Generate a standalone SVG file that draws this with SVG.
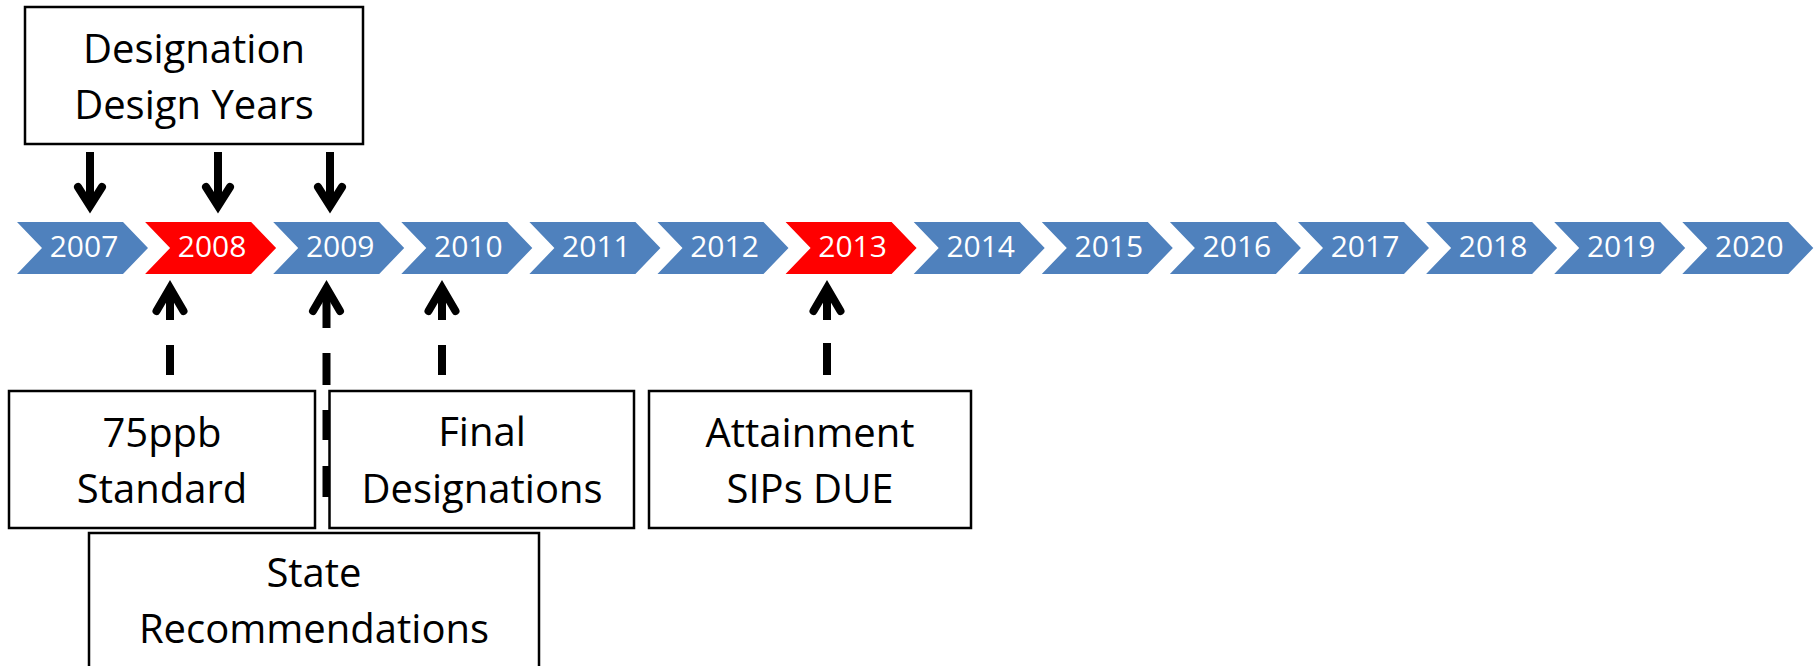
<svg xmlns="http://www.w3.org/2000/svg" width="1818" height="666" viewBox="0 0 1818 666">
<style>
.chev{fill:#4F81BD}
.chev.red{fill:#FF0000}
.yr{font-family:"Open Sans","Liberation Sans",sans-serif;font-size:30px;fill:#FFFFFF;text-anchor:middle}
.box{fill:#FFFFFF;stroke:#000000;stroke-width:2.5}
.lbl{font-family:"Open Sans","Liberation Sans",sans-serif;font-size:40px;fill:#000000;text-anchor:middle}
.shaft{stroke:#000000;stroke-width:8;fill:none}
.head{stroke:#000000;stroke-width:8;fill:none;stroke-linecap:round;stroke-linejoin:miter}
</style>
<defs>
<polygon id="chevShape" points="0,222 106,222 131,248 106,274 0,274 25,248"/>
</defs>
<rect width="1818" height="666" fill="#FFFFFF"/>
<g id="timeline">
<g id="y2007"><use href="#chevShape" class="chev" x="17"/><text class="yr" x="84" y="257">2007</text></g>
<g id="y2008"><use href="#chevShape" class="chev red" x="145.1"/><text class="yr" x="212.1" y="257">2008</text></g>
<g id="y2009"><use href="#chevShape" class="chev" x="273.2"/><text class="yr" x="340.2" y="257">2009</text></g>
<g id="y2010"><use href="#chevShape" class="chev" x="401.3"/><text class="yr" x="468.3" y="257">2010</text></g>
<g id="y2011"><use href="#chevShape" class="chev" x="529.4"/><text class="yr" x="596.4" y="257">2011</text></g>
<g id="y2012"><use href="#chevShape" class="chev" x="657.5"/><text class="yr" x="724.5" y="257">2012</text></g>
<g id="y2013"><use href="#chevShape" class="chev red" x="785.6"/><text class="yr" x="852.6" y="257">2013</text></g>
<g id="y2014"><use href="#chevShape" class="chev" x="913.7"/><text class="yr" x="980.7" y="257">2014</text></g>
<g id="y2015"><use href="#chevShape" class="chev" x="1041.8"/><text class="yr" x="1108.8" y="257">2015</text></g>
<g id="y2016"><use href="#chevShape" class="chev" x="1169.9"/><text class="yr" x="1236.9" y="257">2016</text></g>
<g id="y2017"><use href="#chevShape" class="chev" x="1298"/><text class="yr" x="1365" y="257">2017</text></g>
<g id="y2018"><use href="#chevShape" class="chev" x="1426.1"/><text class="yr" x="1493.1" y="257">2018</text></g>
<g id="y2019"><use href="#chevShape" class="chev" x="1554.2"/><text class="yr" x="1621.2" y="257">2019</text></g>
<g id="y2020"><use href="#chevShape" class="chev" x="1682.3"/><text class="yr" x="1749.3" y="257">2020</text></g>
</g>
<g id="connectors">
<!-- down arrows from Designation Design Years -->
<path class="shaft" d="M90,152V206M218,152V206M330,152V206"/>
<path class="head" d="M78,187L90,206L102,187M206,187L218,206L230,187M318,187L330,206L342,187"/>
<!-- up arrows -->
<path class="shaft" d="M170,288V320M170,345V375"/>
<path class="head" d="M156.5,311L170,288L183.5,311"/>
<path class="shaft" d="M326.5,288V328M326.5,353V385M326.5,410V440M326.5,466V497"/>
<path class="head" d="M313,311L326.5,288L340,311"/>
<path class="shaft" d="M442,288V320M442,345V375"/>
<path class="head" d="M428.5,311L442,288L455.5,311"/>
<path class="shaft" d="M827,288V320M827,343V375"/>
<path class="head" d="M813.5,311L827,288L840.5,311"/>
</g>
<g id="designation">
<rect class="box" x="25" y="7" width="338" height="137"/>
<text class="lbl" x="194" y="63">Designation</text>
<text class="lbl" x="194" y="119">Design Years</text>
</g>
<g id="standard">
<rect class="box" x="9" y="391" width="306" height="137"/>
<text class="lbl" x="162" y="447">75ppb</text>
<text class="lbl" x="162" y="503">Standard</text>
</g>
<g id="final">
<rect class="box" x="329.5" y="391" width="304.5" height="137"/>
<text class="lbl" x="482" y="446">Final</text>
<text class="lbl" x="482" y="503">Designations</text>
</g>
<g id="attainment">
<rect class="box" x="649" y="391" width="322" height="137"/>
<text class="lbl" x="810" y="447">Attainment</text>
<text class="lbl" x="810" y="503">SIPs DUE</text>
</g>
<g id="state">
<rect class="box" x="89" y="533" width="450" height="150"/>
<text class="lbl" x="314" y="587">State</text>
<text class="lbl" x="314" y="643">Recommendations</text>
</g>
</svg>
